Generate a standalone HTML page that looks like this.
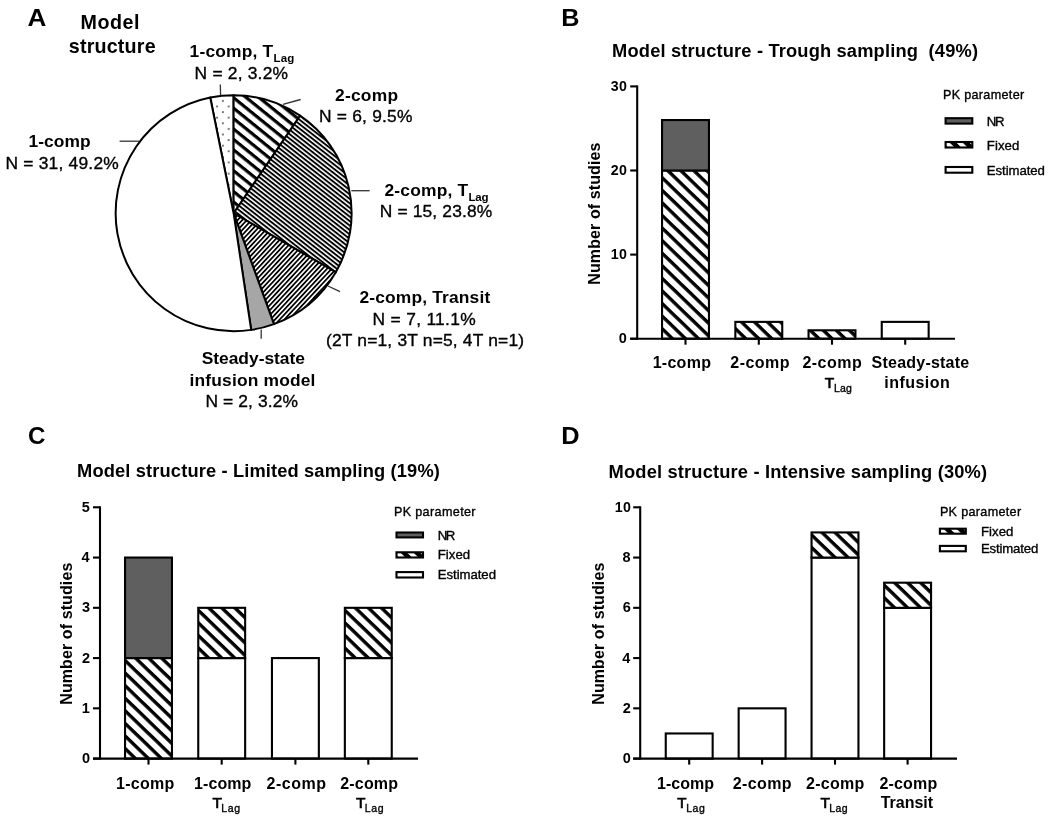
<!DOCTYPE html>
<html><head><meta charset="utf-8"><style>
html,body{margin:0;padding:0;background:#fff;overflow:hidden;width:1050px;height:820px;}
svg{display:block;font-family:"Liberation Sans",sans-serif;filter:grayscale(1) blur(0.5px);}
</style></head><body>
<svg width="1050" height="820" viewBox="0 0 1050 820">
<rect width="1050" height="820" fill="#fff"/>
<defs>
<pattern id="barstripe" patternUnits="userSpaceOnUse" width="9.1" height="9.1" patternTransform="rotate(42.5)"><rect width="9.1" height="9.1" fill="#fff"/><rect y="0" width="9.1" height="3.3" fill="#000"/></pattern>
<pattern id="pstripe" patternUnits="userSpaceOnUse" width="8.7" height="8.7" patternTransform="rotate(36)"><rect width="8.7" height="8.7" fill="#fff"/><rect y="0" width="8.7" height="3.0" fill="#000"/></pattern>
<pattern id="tlag" patternUnits="userSpaceOnUse" width="3.5" height="3.5" patternTransform="rotate(38)"><rect width="3.5" height="3.5" fill="#fff"/><rect y="0" width="3.5" height="1.9" fill="#000"/></pattern>
<pattern id="transit" patternUnits="userSpaceOnUse" width="3.4" height="3.4" patternTransform="rotate(-47)"><rect width="3.4" height="3.4" fill="#fff"/><rect y="0" width="3.4" height="1.75" fill="#000"/></pattern>
<pattern id="dots" patternUnits="userSpaceOnUse" width="11.6" height="11.2" x="221.9" y="99.9"><rect width="11.6" height="11.2" fill="#fff"/><circle cx="1" cy="1" r="1.0" fill="#555"/><circle cx="6.8" cy="6.6" r="1.0" fill="#555"/></pattern>
</defs>
<defs><pattern id="sp1" patternUnits="userSpaceOnUse" x="0" y="0.256" width="8.1" height="8.1" patternTransform="rotate(39)"><rect width="8.1" height="8.1" fill="#fff"/><rect width="8.1" height="3.2" fill="#000"/></pattern><pattern id="sp2" patternUnits="userSpaceOnUse" x="0" y="1.027" width="9.05" height="9.05" patternTransform="rotate(44)"><rect width="9.05" height="9.05" fill="#fff"/><rect width="9.05" height="3.4" fill="#000"/></pattern><pattern id="sp3" patternUnits="userSpaceOnUse" x="0" y="4.409" width="9.05" height="9.05" patternTransform="rotate(44)"><rect width="9.05" height="9.05" fill="#fff"/><rect width="9.05" height="3.4" fill="#000"/></pattern><pattern id="sp4" patternUnits="userSpaceOnUse" x="0" y="7.860" width="9.05" height="9.05" patternTransform="rotate(44)"><rect width="9.05" height="9.05" fill="#fff"/><rect width="9.05" height="3.4" fill="#000"/></pattern><pattern id="sp5" patternUnits="userSpaceOnUse" x="0" y="8.505" width="9.05" height="9.05" patternTransform="rotate(44)"><rect width="9.05" height="9.05" fill="#fff"/><rect width="9.05" height="4.6" fill="#000"/></pattern><pattern id="sp6" patternUnits="userSpaceOnUse" x="0" y="6.410" width="9.05" height="9.05" patternTransform="rotate(44)"><rect width="9.05" height="9.05" fill="#fff"/><rect width="9.05" height="3.4" fill="#000"/></pattern><pattern id="sp7" patternUnits="userSpaceOnUse" x="0" y="0.903" width="9.05" height="9.05" patternTransform="rotate(44)"><rect width="9.05" height="9.05" fill="#fff"/><rect width="9.05" height="3.4" fill="#000"/></pattern><pattern id="sp8" patternUnits="userSpaceOnUse" x="0" y="7.666" width="9.05" height="9.05" patternTransform="rotate(44)"><rect width="9.05" height="9.05" fill="#fff"/><rect width="9.05" height="3.4" fill="#000"/></pattern><pattern id="sp9" patternUnits="userSpaceOnUse" x="0" y="6.190" width="9.05" height="9.05" patternTransform="rotate(44)"><rect width="9.05" height="9.05" fill="#fff"/><rect width="9.05" height="4.6" fill="#000"/></pattern><pattern id="sp10" patternUnits="userSpaceOnUse" x="0" y="0.311" width="9.05" height="9.05" patternTransform="rotate(44)"><rect width="9.05" height="9.05" fill="#fff"/><rect width="9.05" height="3.4" fill="#000"/></pattern><pattern id="sp11" patternUnits="userSpaceOnUse" x="0" y="4.132" width="9.05" height="9.05" patternTransform="rotate(44)"><rect width="9.05" height="9.05" fill="#fff"/><rect width="9.05" height="3.4" fill="#000"/></pattern><pattern id="sp12" patternUnits="userSpaceOnUse" x="0" y="0.951" width="9.05" height="9.05" patternTransform="rotate(44)"><rect width="9.05" height="9.05" fill="#fff"/><rect width="9.05" height="4.6" fill="#000"/></pattern></defs>
<path d="M233.6,213.2 L210.22,97.54 A118.0,118.0 0 0 1 233.60,95.20 Z" fill="url(#dots)" stroke="#000" stroke-width="2" stroke-linejoin="round"/>
<path d="M233.6,213.2 L233.60,95.20 A118.0,118.0 0 0 1 300.07,115.70 Z" fill="url(#sp1)" stroke="#000" stroke-width="2" stroke-linejoin="round"/>
<path d="M233.6,213.2 L300.07,115.70 A118.0,118.0 0 0 1 335.79,272.20 Z" fill="url(#tlag)" stroke="#000" stroke-width="2" stroke-linejoin="round"/>
<path d="M233.6,213.2 L335.79,272.20 A118.0,118.0 0 0 1 273.96,324.08 Z" fill="url(#transit)" stroke="#000" stroke-width="2" stroke-linejoin="round"/>
<path d="M233.6,213.2 L273.96,324.08 A118.0,118.0 0 0 1 251.19,329.88 Z" fill="#a6a6a6" stroke="#000" stroke-width="2" stroke-linejoin="round"/>
<path d="M233.6,213.2 L251.19,329.88 A118.0,118.0 0 0 1 210.22,97.54 Z" fill="#fff" stroke="#000" stroke-width="2" stroke-linejoin="round"/>
<g stroke="#333" stroke-width="1.3">
<line x1="220.3" y1="84.6" x2="220.6" y2="95.5"/>
<line x1="283" y1="104.4" x2="300.6" y2="99.5"/>
<line x1="351.4" y1="190.7" x2="369.7" y2="190.7"/>
<line x1="328" y1="286" x2="340" y2="291.6"/>
<line x1="261.2" y1="329.5" x2="261.2" y2="338.8"/>
<line x1="119.6" y1="141.2" x2="139.4" y2="141.2"/>
</g>
<text x="27.45" y="25.60" font-size="24.5" font-weight="700" textLength="18.86" lengthAdjust="spacingAndGlyphs" fill="#000">A</text>
<text x="80.42" y="29.30" font-size="19.7" font-weight="700" textLength="59.13" lengthAdjust="spacing" fill="#000">Model</text>
<text x="68.81" y="53.30" font-size="19.7" font-weight="700" textLength="86.77" lengthAdjust="spacing" fill="#000">structure</text>
<text x="189.57" y="57.40" font-size="17.4" font-weight="700" textLength="83.65" lengthAdjust="spacing" fill="#000">1-comp, T</text>
<text x="273.45" y="62.20" font-size="11.5" font-weight="700" textLength="20.83" lengthAdjust="spacing" fill="#000">Lag</text>
<text x="194.61" y="78.80" font-size="17.4" font-weight="400" textLength="93.36" lengthAdjust="spacing" fill="#000" stroke="#000" stroke-width="0.35">N = 2, 3.2%</text>
<text x="334.99" y="100.60" font-size="17.4" font-weight="700" textLength="63.03" lengthAdjust="spacing" fill="#000">2-comp</text>
<text x="319.01" y="121.90" font-size="17.4" font-weight="400" textLength="93.36" lengthAdjust="spacing" fill="#000" stroke="#000" stroke-width="0.35">N = 6, 9.5%</text>
<text x="384.39" y="195.90" font-size="17.4" font-weight="700" textLength="83.83" lengthAdjust="spacing" fill="#000">2-comp, T</text>
<text x="468.45" y="200.70" font-size="11.5" font-weight="700" textLength="20.13" lengthAdjust="spacing" fill="#000">Lag</text>
<text x="379.71" y="217.20" font-size="17.4" font-weight="400" textLength="112.51" lengthAdjust="spacing" fill="#000" stroke="#000" stroke-width="0.35">N = 15, 23.8%</text>
<text x="359.39" y="303.00" font-size="17.4" font-weight="700" textLength="130.80" lengthAdjust="spacing" fill="#000">2-comp, Transit</text>
<text x="372.61" y="325.00" font-size="17.4" font-weight="400" textLength="103.00" lengthAdjust="spacing" fill="#000" stroke="#000" stroke-width="0.35">N = 7, 11.1%</text>
<text x="325.96" y="345.60" font-size="17.4" font-weight="400" textLength="198.12" lengthAdjust="spacing" fill="#000" stroke="#000" stroke-width="0.35">(2T n=1, 3T n=5, 4T n=1)</text>
<text x="201.68" y="364.20" font-size="17.4" font-weight="700" textLength="103.27" lengthAdjust="spacing" fill="#000">Steady-state</text>
<text x="189.58" y="386.30" font-size="17.4" font-weight="700" textLength="125.85" lengthAdjust="spacing" fill="#000">infusion model</text>
<text x="205.41" y="406.90" font-size="17.4" font-weight="400" textLength="92.56" lengthAdjust="spacing" fill="#000" stroke="#000" stroke-width="0.35">N = 2, 3.2%</text>
<text x="28.57" y="146.60" font-size="17.4" font-weight="700" textLength="62.05" lengthAdjust="spacing" fill="#000">1-comp</text>
<text x="5.51" y="169.10" font-size="17.4" font-weight="400" textLength="113.21" lengthAdjust="spacing" fill="#000" stroke="#000" stroke-width="0.35">N = 31, 49.2%</text>
<text x="561.26" y="25.60" font-size="24.5" font-weight="700" textLength="18.23" lengthAdjust="spacingAndGlyphs" fill="#000">B</text>
<text x="612.11" y="57.10" font-size="18.3" font-weight="700" textLength="365.88" lengthAdjust="spacing" fill="#000">Model structure - Trough sampling  (49%)</text>
<g>
<rect x="662.05" y="170.50" width="46.90" height="168.20" fill="url(#sp2)" stroke="#000" stroke-width="2.1"/><rect x="662.05" y="120.04" width="46.90" height="50.46" fill="#5f5f5f" stroke="#000" stroke-width="2.1"/>
<rect x="735.35" y="321.88" width="46.90" height="16.82" fill="url(#sp3)" stroke="#000" stroke-width="2.1"/>
<rect x="808.55" y="330.29" width="46.90" height="8.41" fill="url(#sp4)" stroke="#000" stroke-width="2.1"/>
<rect x="881.75" y="321.88" width="46.90" height="16.82" fill="#fff" stroke="#000" stroke-width="2.1"/>
</g>
<line x1="637.2" y1="85.4" x2="637.2" y2="339.7" stroke="#000" stroke-width="2.1"/><line x1="630.2" y1="338.7" x2="955" y2="338.7" stroke="#000" stroke-width="2.1"/><line x1="630.2" y1="338.7" x2="637.2" y2="338.7" stroke="#000" stroke-width="2.1"/><text x="618.74" y="343.18" font-size="14.2" font-weight="700" textLength="8.06" lengthAdjust="spacingAndGlyphs" fill="#000">0</text><line x1="630.2" y1="254.6" x2="637.2" y2="254.6" stroke="#000" stroke-width="2.1"/><text x="610.72" y="259.08" font-size="14.2" font-weight="700" textLength="16.08" lengthAdjust="spacing" fill="#000">10</text><line x1="630.2" y1="170.5" x2="637.2" y2="170.5" stroke="#000" stroke-width="2.1"/><text x="610.71" y="174.98" font-size="14.2" font-weight="700" textLength="16.09" lengthAdjust="spacing" fill="#000">20</text><line x1="630.2" y1="86.39999999999998" x2="637.2" y2="86.39999999999998" stroke="#000" stroke-width="2.1"/><text x="610.71" y="90.88" font-size="14.2" font-weight="700" textLength="16.09" lengthAdjust="spacing" fill="#000">30</text>
<line x1="685.5" y1="338.7" x2="685.5" y2="344.7" stroke="#000" stroke-width="2.1"/>
<line x1="758.8" y1="338.7" x2="758.8" y2="344.7" stroke="#000" stroke-width="2.1"/>
<line x1="832.0" y1="338.7" x2="832.0" y2="344.7" stroke="#000" stroke-width="2.1"/>
<line x1="905.2" y1="338.7" x2="905.2" y2="344.7" stroke="#000" stroke-width="2.1"/>
<text x="652.66" y="368.30" font-size="16.0" font-weight="700" textLength="58.30" lengthAdjust="spacing" fill="#000">1-comp</text>
<text x="730.34" y="368.30" font-size="16.0" font-weight="700" textLength="59.12" lengthAdjust="spacing" fill="#000">2-comp</text>
<text x="802.44" y="368.30" font-size="16.0" font-weight="700" textLength="59.22" lengthAdjust="spacing" fill="#000">2-comp</text>
<text x="824.69" y="388.30" font-size="15.5" font-weight="400" textLength="9.43" lengthAdjust="spacingAndGlyphs" fill="#000" stroke="#000" stroke-width="0.7">T</text>
<text x="833.96" y="391.70" font-size="10.5" font-weight="400" textLength="17.96" lengthAdjust="spacing" fill="#000" stroke="#000" stroke-width="0.35">Lag</text>
<text x="871.62" y="368.20" font-size="16.0" font-weight="700" textLength="97.57" lengthAdjust="spacing" fill="#000">Steady-state</text>
<text x="884.28" y="388.20" font-size="16.0" font-weight="700" textLength="65.43" lengthAdjust="spacing" fill="#000">infusion</text>
<text x="599.26" y="283.60" transform="rotate(-90 600.30 283.60)" font-size="16.0" font-weight="700" textLength="141.96" lengthAdjust="spacing">Number of studies</text>
<text x="942.99" y="98.90" font-size="12.6" font-weight="400" textLength="81.16" lengthAdjust="spacing" fill="#000" stroke="#000" stroke-width="0.35">PK parameter</text>
<rect x="945.60" y="118.20" width="26.70" height="5.40" fill="#5f5f5f" stroke="#000" stroke-width="2.1"/>
<rect x="945.60" y="142.00" width="26.70" height="5.50" fill="url(#sp5)" stroke="#000" stroke-width="2.1"/>
<rect x="945.60" y="167.00" width="26.70" height="5.70" fill="#fff" stroke="#000" stroke-width="2.1"/>
<text x="986.84" y="125.70" font-size="13.2" font-weight="400" textLength="17.61" lengthAdjust="spacing" fill="#000" stroke="#000" stroke-width="0.35">NR</text>
<text x="986.84" y="149.50" font-size="13.2" font-weight="400" textLength="32.42" lengthAdjust="spacing" fill="#000" stroke="#000" stroke-width="0.35">Fixed</text>
<text x="986.84" y="174.50" font-size="13.2" font-weight="400" textLength="58.03" lengthAdjust="spacing" fill="#000" stroke="#000" stroke-width="0.35">Estimated</text>
<text x="28.04" y="444.00" font-size="24.5" font-weight="700" textLength="17.42" lengthAdjust="spacingAndGlyphs" fill="#000">C</text>
<text x="77.11" y="477.10" font-size="18.3" font-weight="700" textLength="362.78" lengthAdjust="spacing" fill="#000">Model structure - Limited sampling (19%)</text>
<rect x="125.05" y="658.08" width="46.90" height="100.52" fill="url(#sp6)" stroke="#000" stroke-width="2.1"/><rect x="125.05" y="557.56" width="46.90" height="100.52" fill="#5f5f5f" stroke="#000" stroke-width="2.1"/>
<rect x="198.25" y="658.08" width="46.90" height="100.52" fill="#fff" stroke="#000" stroke-width="2.1"/><rect x="198.25" y="607.82" width="46.90" height="50.26" fill="url(#sp7)" stroke="#000" stroke-width="2.1"/>
<rect x="271.95" y="658.08" width="46.90" height="100.52" fill="#fff" stroke="#000" stroke-width="2.1"/>
<rect x="344.85" y="658.08" width="46.90" height="100.52" fill="#fff" stroke="#000" stroke-width="2.1"/><rect x="344.85" y="607.82" width="46.90" height="50.26" fill="url(#sp8)" stroke="#000" stroke-width="2.1"/>
<line x1="100.0" y1="506.3" x2="100.0" y2="759.6" stroke="#000" stroke-width="2.1"/><line x1="93.0" y1="758.6" x2="418" y2="758.6" stroke="#000" stroke-width="2.1"/><line x1="93.0" y1="758.6" x2="100.0" y2="758.6" stroke="#000" stroke-width="2.1"/><text x="82.04" y="763.08" font-size="14.2" font-weight="700" textLength="8.06" lengthAdjust="spacingAndGlyphs" fill="#000">0</text><line x1="93.0" y1="708.34" x2="100.0" y2="708.34" stroke="#000" stroke-width="2.1"/><text x="81.82" y="712.82" font-size="14.2" font-weight="700" textLength="8.06" lengthAdjust="spacingAndGlyphs" fill="#000">1</text><line x1="93.0" y1="658.08" x2="100.0" y2="658.08" stroke="#000" stroke-width="2.1"/><text x="82.04" y="662.56" font-size="14.2" font-weight="700" textLength="8.06" lengthAdjust="spacingAndGlyphs" fill="#000">2</text><line x1="93.0" y1="607.8199999999999" x2="100.0" y2="607.8199999999999" stroke="#000" stroke-width="2.1"/><text x="81.97" y="612.30" font-size="14.2" font-weight="700" textLength="8.06" lengthAdjust="spacingAndGlyphs" fill="#000">3</text><line x1="93.0" y1="557.56" x2="100.0" y2="557.56" stroke="#000" stroke-width="2.1"/><text x="81.53" y="562.04" font-size="14.2" font-weight="700" textLength="8.06" lengthAdjust="spacingAndGlyphs" fill="#000">4</text><line x1="93.0" y1="507.3" x2="100.0" y2="507.3" stroke="#000" stroke-width="2.1"/><text x="81.82" y="511.78" font-size="14.2" font-weight="700" textLength="8.06" lengthAdjust="spacingAndGlyphs" fill="#000">5</text>
<line x1="148.5" y1="758.6" x2="148.5" y2="764.6" stroke="#000" stroke-width="2.1"/>
<line x1="221.7" y1="758.6" x2="221.7" y2="764.6" stroke="#000" stroke-width="2.1"/>
<line x1="295.4" y1="758.6" x2="295.4" y2="764.6" stroke="#000" stroke-width="2.1"/>
<line x1="368.3" y1="758.6" x2="368.3" y2="764.6" stroke="#000" stroke-width="2.1"/>
<text x="116.06" y="788.60" font-size="16.0" font-weight="700" textLength="58.20" lengthAdjust="spacing" fill="#000">1-comp</text>
<text x="193.96" y="788.60" font-size="16.0" font-weight="700" textLength="57.40" lengthAdjust="spacing" fill="#000">1-comp</text>
<text x="212.59" y="808.30" font-size="15.5" font-weight="400" textLength="9.43" lengthAdjust="spacingAndGlyphs" fill="#000" stroke="#000" stroke-width="0.7">T</text>
<text x="221.26" y="811.70" font-size="10.5" font-weight="400" textLength="18.76" lengthAdjust="spacing" fill="#000" stroke="#000" stroke-width="0.35">Lag</text>
<text x="266.44" y="788.60" font-size="16.0" font-weight="700" textLength="59.62" lengthAdjust="spacing" fill="#000">2-comp</text>
<text x="340.24" y="788.60" font-size="16.0" font-weight="700" textLength="57.82" lengthAdjust="spacing" fill="#000">2-comp</text>
<text x="355.89" y="808.30" font-size="15.5" font-weight="400" textLength="9.43" lengthAdjust="spacingAndGlyphs" fill="#000" stroke="#000" stroke-width="0.7">T</text>
<text x="364.86" y="811.70" font-size="10.5" font-weight="400" textLength="18.76" lengthAdjust="spacing" fill="#000" stroke="#000" stroke-width="0.35">Lag</text>
<text x="70.66" y="703.70" transform="rotate(-90 71.70 703.70)" font-size="16.0" font-weight="700" textLength="142.06" lengthAdjust="spacing">Number of studies</text>
<text x="393.89" y="516.20" font-size="12.6" font-weight="400" textLength="81.66" lengthAdjust="spacing" fill="#000" stroke="#000" stroke-width="0.35">PK parameter</text>
<rect x="396.50" y="532.50" width="26.50" height="4.90" fill="#5f5f5f" stroke="#000" stroke-width="2.1"/>
<rect x="396.50" y="552.30" width="26.50" height="5.20" fill="url(#sp9)" stroke="#000" stroke-width="2.1"/>
<rect x="396.50" y="572.10" width="26.50" height="5.40" fill="#fff" stroke="#000" stroke-width="2.1"/>
<text x="437.74" y="539.50" font-size="13.2" font-weight="400" textLength="17.61" lengthAdjust="spacing" fill="#000" stroke="#000" stroke-width="0.35">NR</text>
<text x="437.74" y="559.30" font-size="13.2" font-weight="400" textLength="32.42" lengthAdjust="spacing" fill="#000" stroke="#000" stroke-width="0.35">Fixed</text>
<text x="437.74" y="579.10" font-size="13.2" font-weight="400" textLength="58.23" lengthAdjust="spacing" fill="#000" stroke="#000" stroke-width="0.35">Estimated</text>
<text x="561.35" y="444.40" font-size="24.5" font-weight="700" textLength="18.32" lengthAdjust="spacingAndGlyphs" fill="#000">D</text>
<text x="608.61" y="477.50" font-size="18.3" font-weight="700" textLength="378.46" lengthAdjust="spacing" fill="#000">Model structure - Intensive sampling (30%)</text>
<rect x="665.75" y="733.47" width="46.90" height="25.13" fill="#fff" stroke="#000" stroke-width="2.1"/>
<rect x="738.65" y="708.34" width="46.90" height="50.26" fill="#fff" stroke="#000" stroke-width="2.1"/>
<rect x="811.55" y="557.56" width="46.90" height="201.04" fill="#fff" stroke="#000" stroke-width="2.1"/><rect x="811.55" y="532.43" width="46.90" height="25.13" fill="url(#sp10)" stroke="#000" stroke-width="2.1"/>
<rect x="884.15" y="607.82" width="46.90" height="150.78" fill="#fff" stroke="#000" stroke-width="2.1"/><rect x="884.15" y="582.69" width="46.90" height="25.13" fill="url(#sp11)" stroke="#000" stroke-width="2.1"/>
<line x1="640.2" y1="506.3" x2="640.2" y2="759.6" stroke="#000" stroke-width="2.1"/><line x1="633.2" y1="758.6" x2="957" y2="758.6" stroke="#000" stroke-width="2.1"/><line x1="633.2" y1="758.6" x2="640.2" y2="758.6" stroke="#000" stroke-width="2.1"/><text x="622.74" y="763.08" font-size="14.2" font-weight="700" textLength="8.06" lengthAdjust="spacingAndGlyphs" fill="#000">0</text><line x1="633.2" y1="708.34" x2="640.2" y2="708.34" stroke="#000" stroke-width="2.1"/><text x="622.74" y="712.82" font-size="14.2" font-weight="700" textLength="8.06" lengthAdjust="spacingAndGlyphs" fill="#000">2</text><line x1="633.2" y1="658.08" x2="640.2" y2="658.08" stroke="#000" stroke-width="2.1"/><text x="622.23" y="662.56" font-size="14.2" font-weight="700" textLength="8.06" lengthAdjust="spacingAndGlyphs" fill="#000">4</text><line x1="633.2" y1="607.8199999999999" x2="640.2" y2="607.8199999999999" stroke="#000" stroke-width="2.1"/><text x="622.67" y="612.30" font-size="14.2" font-weight="700" textLength="8.06" lengthAdjust="spacingAndGlyphs" fill="#000">6</text><line x1="633.2" y1="557.56" x2="640.2" y2="557.56" stroke="#000" stroke-width="2.1"/><text x="622.60" y="562.04" font-size="14.2" font-weight="700" textLength="8.06" lengthAdjust="spacingAndGlyphs" fill="#000">8</text><line x1="633.2" y1="507.3" x2="640.2" y2="507.3" stroke="#000" stroke-width="2.1"/><text x="614.72" y="511.78" font-size="14.2" font-weight="700" textLength="16.08" lengthAdjust="spacing" fill="#000">10</text>
<line x1="689.2" y1="758.6" x2="689.2" y2="764.6" stroke="#000" stroke-width="2.1"/>
<line x1="762.1" y1="758.6" x2="762.1" y2="764.6" stroke="#000" stroke-width="2.1"/>
<line x1="835.0" y1="758.6" x2="835.0" y2="764.6" stroke="#000" stroke-width="2.1"/>
<line x1="907.6" y1="758.6" x2="907.6" y2="764.6" stroke="#000" stroke-width="2.1"/>
<text x="656.96" y="788.60" font-size="16.0" font-weight="700" textLength="57.10" lengthAdjust="spacing" fill="#000">1-comp</text>
<text x="677.30" y="808.30" font-size="15.5" font-weight="400" textLength="9.22" lengthAdjust="spacingAndGlyphs" fill="#000" stroke="#000" stroke-width="0.7">T</text>
<text x="686.26" y="811.70" font-size="10.5" font-weight="400" textLength="18.46" lengthAdjust="spacing" fill="#000" stroke="#000" stroke-width="0.35">Lag</text>
<text x="732.84" y="788.60" font-size="16.0" font-weight="700" textLength="58.72" lengthAdjust="spacing" fill="#000">2-comp</text>
<text x="806.04" y="788.60" font-size="16.0" font-weight="700" textLength="58.32" lengthAdjust="spacing" fill="#000">2-comp</text>
<text x="820.39" y="808.30" font-size="15.5" font-weight="400" textLength="9.43" lengthAdjust="spacingAndGlyphs" fill="#000" stroke="#000" stroke-width="0.7">T</text>
<text x="829.16" y="811.70" font-size="10.5" font-weight="400" textLength="18.46" lengthAdjust="spacing" fill="#000" stroke="#000" stroke-width="0.35">Lag</text>
<text x="879.44" y="788.60" font-size="16.0" font-weight="700" textLength="57.82" lengthAdjust="spacing" fill="#000">2-comp</text>
<text x="880.74" y="808.00" font-size="16.0" font-weight="700" textLength="52.38" lengthAdjust="spacing" fill="#000">Transit</text>
<text x="602.76" y="703.70" transform="rotate(-90 603.80 703.70)" font-size="16.0" font-weight="700" textLength="142.06" lengthAdjust="spacing">Number of studies</text>
<text x="939.89" y="516.30" font-size="12.6" font-weight="400" textLength="81.26" lengthAdjust="spacing" fill="#000" stroke="#000" stroke-width="0.35">PK parameter</text>
<rect x="939.90" y="528.70" width="25.90" height="5.00" fill="url(#sp12)" stroke="#000" stroke-width="2.1"/>
<rect x="939.90" y="545.90" width="25.90" height="5.40" fill="#fff" stroke="#000" stroke-width="2.1"/>
<text x="980.94" y="535.70" font-size="13.2" font-weight="400" textLength="32.42" lengthAdjust="spacing" fill="#000" stroke="#000" stroke-width="0.35">Fixed</text>
<text x="980.94" y="552.90" font-size="13.2" font-weight="400" textLength="57.33" lengthAdjust="spacing" fill="#000" stroke="#000" stroke-width="0.35">Estimated</text>
</svg>
</body></html>
